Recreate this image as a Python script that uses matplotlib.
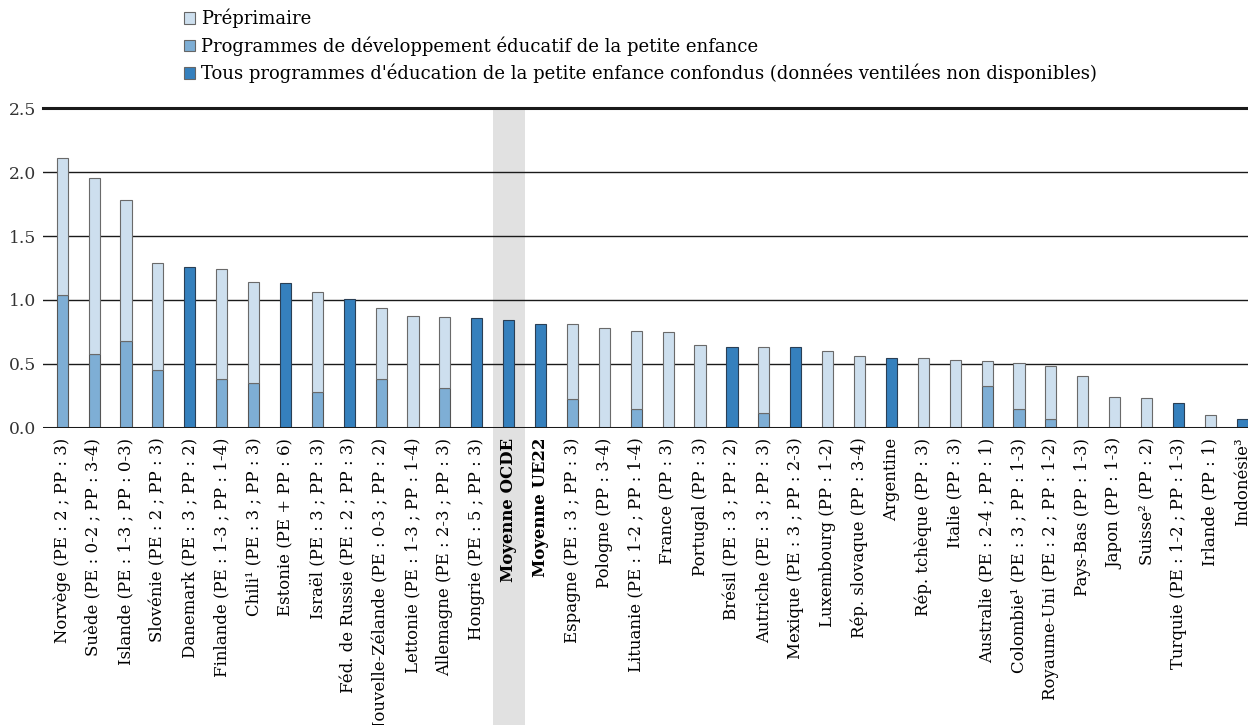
import numpy as np
import matplotlib
matplotlib.use("Agg")
from matplotlib import pyplot as plt
from matplotlib import patches, transforms

plt.rcParams['font.family'] = ['DejaVu Serif']

# categories (labels as printed)
countries = [
    "Norvège (PE : 2 ; PP : 3)", "Suède (PE : 0-2 ; PP : 3-4)", "Islande (PE : 1-3 ; PP : 0-3)",
    "Slovénie (PE : 2 ; PP : 3)", "Danemark (PE : 3 ; PP : 2)", "Finlande (PE : 1-3 ; PP : 1-4)",
    "Chili¹ (PE : 3 ; PP : 3)", "Estonie (PE + PP : 6)", "Israël (PE : 3 ; PP : 3)",
    "Féd. de Russie (PE : 2 ; PP : 3)", "Nouvelle-Zélande (PE : 0-3 ; PP : 2)", "Lettonie (PE : 1-3 ; PP : 1-4)",
    "Allemagne (PE : 2-3 ; PP : 3)", "Hongrie (PE : 5 ; PP : 3)", "Moyenne OCDE", "Moyenne UE22",
    "Espagne (PE : 3 ; PP : 3)", "Pologne (PP : 3-4)", "Lituanie (PE : 1-2 ; PP : 1-4)",
    "France (PP : 3)", "Portugal (PP : 3)", "Brésil (PE : 3 ; PP : 2)", "Autriche (PE : 3 ; PP : 3)",
    "Mexique (PE : 3 ; PP : 2-3)", "Luxembourg (PP : 1-2)", "Rép. slovaque (PP : 3-4)", "Argentine",
    "Rép. tchèque (PP : 3)", "Italie (PP : 3)", "Australie (PE : 2-4 ; PP : 1)",
    "Colombie¹ (PE : 3 ; PP : 1-3)", "Royaume-Uni (PE : 2 ; PP : 1-2)", "Pays-Bas (PP : 1-3)",
    "Japon (PP : 1-3)", "Suisse² (PP : 2)", "Turquie (PE : 1-2 ; PP : 1-3)", "Irlande (PP : 1)",
    "Indonésie³",
]
bold_labels = ["Moyenne OCDE", "Moyenne UE22"]

# programmes de développement éducatif de la petite enfance (PE)
pe = [1.04, 0.58, 0.68, 0.45, 0, 0.38, 0.35, 0, 0.28, 0, 0.385, 0, 0.31, 0, 0, 0,
      0.23, 0, 0.15, 0, 0, 0, 0.12, 0, 0, 0, 0, 0, 0, 0.325, 0.146, 0.073, 0, 0, 0, 0, 0, 0]
# préprimaire (PP)
pp = [1.07, 1.37, 1.10, 0.84, 0, 0.86, 0.79, 0, 0.78, 0, 0.555, 0.875, 0.56, 0, 0, 0,
      0.58, 0.78, 0.61, 0.75, 0.65, 0, 0.515, 0, 0.60, 0.56, 0, 0.547, 0.534, 0.20, 0.364,
      0.41, 0.406, 0.24, 0.237, 0, 0.104, 0]
# tous programmes confondus
all_prog = [0, 0, 0, 0, 1.26, 0, 0, 1.13, 0, 1.01, 0, 0, 0, 0.86, 0.84, 0.815,
            0, 0, 0, 0, 0, 0.635, 0, 0.63, 0, 0, 0.55, 0, 0, 0, 0, 0, 0, 0, 0, 0.198, 0, 0.073]

legend_labels = [
    "Préprimaire",
    "Programmes de développement éducatif de la petite enfance",
    "Tous programmes d'éducation de la petite enfance confondus (données ventilées non disponibles)",
]

c_pp = "#cddfee"
c_pe = "#7eaed5"
c_all = "#3580bd"

x = np.arange(len(countries))
pe_a = np.array(pe, dtype=float)
pp_a = np.array(pp, dtype=float)
all_a = np.array(all_prog, dtype=float)
mask = lambda a: np.where(a > 0, a, np.nan)

fig = plt.figure(figsize=(12.48, 7.25), dpi=100)
ax = fig.add_axes([0.0345, 0.4097, 0.9655, 0.4413])

w = 0.35
ax.bar(x, mask(pe_a), w, color=c_pe, edgecolor="#555555", linewidth=0.8, zorder=3)
ax.bar(x, mask(pp_a), w, bottom=pe_a, color=c_pp, edgecolor="#6a6a6a", linewidth=0.8, zorder=3)
ax.bar(x, mask(all_a), w, color=c_all, edgecolor="#2a3f55", linewidth=0.8, zorder=3)

# gray band behind the OECD average, running down through the labels
i_oecd = countries.index("Moyenne OCDE")
trans = transforms.blended_transform_factory(ax.transData, ax.transAxes)
band = patches.Rectangle((i_oecd - 0.5, -1.2), 1.0, 2.2, transform=trans,
                         facecolor="#e1e1e1", edgecolor="none", clip_on=False, zorder=0)
ax.add_patch(band)

ax.set_xlim(-0.6, 37.18)
ax.set_ylim(0, 2.5)
ax.set_yticks([0, 0.5, 1.0, 1.5, 2.0, 2.5])
ax.set_yticklabels(["0.0", "0.5", "1.0", "1.5", "2.0", "2.5"])
for yv in [0.5, 1.0, 1.5, 2.0]:
    ax.axhline(yv, color="#1a1a1a", linewidth=1.0, zorder=1)
ax.axhline(0, color="#1a1a1a", linewidth=2.2, zorder=4)
ax.axhline(2.5, color="#1a1a1a", linewidth=2.2, zorder=4, clip_on=False)

for s in ax.spines.values():
    s.set_visible(False)
ax.set_facecolor("none")
ax.tick_params(axis="y", length=0, pad=5, labelsize=12.3, labelcolor="#333333")
ax.tick_params(axis="x", length=0, pad=7)
ax.set_xticks(x)
ax.set_xticklabels(countries, rotation=90, fontsize=11.9, va="top", ha="center")
for lbl in ax.get_xticklabels():
    if lbl.get_text() in bold_labels:
        lbl.set_fontweight("bold")

handles = [patches.Patch(facecolor=c, edgecolor="#666666", linewidth=0.8)
           for c in (c_pp, c_pe, c_all)]
fig.legend(handles, legend_labels, loc="upper left", bbox_to_anchor=(0.1346, 1.0105),
           frameon=False, fontsize=13, handlelength=0.62, handleheight=0.62,
           handletextpad=0.3, labelspacing=0.45)

fig.savefig("out.png", dpi=100)
